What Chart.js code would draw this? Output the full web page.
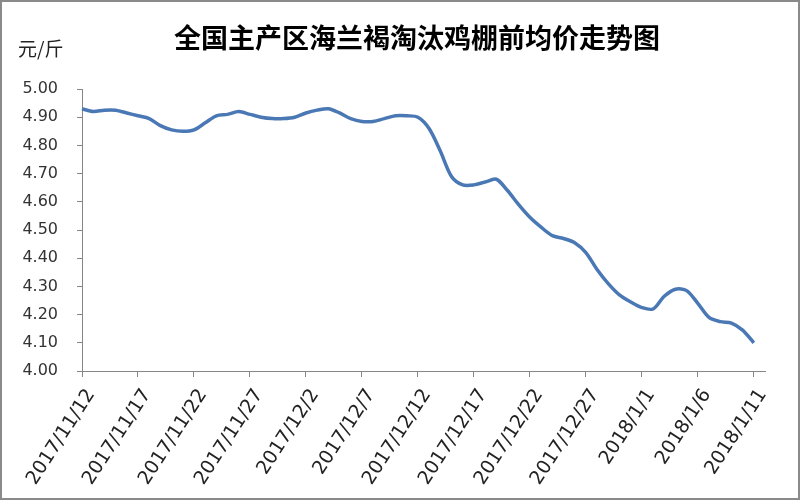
<!DOCTYPE html>
<html>
<head>
<meta charset="utf-8">
<script src="https://cdn.jsdelivr.net/npm/chart.js@4"></script>
<style>
html,body{margin:0;padding:0;background:#fff}
#wrap{width:796px;height:496px;border:2px solid #8a8a8a;position:relative;background:#fff}
</style>
</head>
<body>
<div id="wrap"><canvas id="priceChart" width="796" height="496"></canvas></div>
<script>
// dates 2017/11/12 .. 2018/1/12, one per day
const days = ['2017/11/12','2017/11/13','2017/11/14','2017/11/15','2017/11/16','2017/11/17','2017/11/18','2017/11/19','2017/11/20','2017/11/21',
  '2017/11/22','2017/11/23','2017/11/24','2017/11/25','2017/11/26','2017/11/27','2017/11/28','2017/11/29','2017/11/30','2017/12/1',
  '2017/12/2','2017/12/3','2017/12/4','2017/12/5','2017/12/6','2017/12/7','2017/12/8','2017/12/9','2017/12/10','2017/12/11',
  '2017/12/12','2017/12/13','2017/12/14','2017/12/15','2017/12/16','2017/12/17','2017/12/18','2017/12/19','2017/12/20','2017/12/21',
  '2017/12/22','2017/12/23','2017/12/24','2017/12/25','2017/12/26','2017/12/27','2017/12/28','2017/12/29','2017/12/30','2017/12/31',
  '2018/1/1','2018/1/2','2018/1/3','2018/1/4','2018/1/5','2018/1/6','2018/1/7','2018/1/8','2018/1/9','2018/1/10',
  '2018/1/11','2018/1/12'];
// 元/斤
const prices = [4.93,4.92,4.925,4.925,4.915,4.905,4.895,4.87,4.855,4.85,
  4.855,4.88,4.905,4.91,4.92,4.91,4.90,4.895,4.895,4.90,
  4.915,4.925,4.93,4.915,4.895,4.885,4.885,4.895,4.905,4.905,
  4.90,4.86,4.78,4.69,4.66,4.66,4.67,4.68,4.64,4.59,
  4.545,4.51,4.48,4.47,4.455,4.42,4.36,4.31,4.27,4.245,
  4.225,4.22,4.265,4.29,4.285,4.24,4.19,4.175,4.17,4.145,
  4.10,null];
const yTicks = [4.00,4.10,4.20,4.30,4.40,4.50,4.60,4.70,4.80,4.90,5.00];
const titleText = '全国主产区海兰褐淘汰鸡棚前均价走势图';
const unitText = '元/斤';

// title sits right of centre in the original, so draw it by hand
const headerText = {
  id:'headerText',
  afterDraw(chart){
    const c = chart.ctx;
    c.save();
    c.fillStyle = '#000';
    c.textBaseline = 'middle';
    c.textAlign = 'center';
    c.font = 'bold 27px "Noto Sans CJK SC"';
    c.fillText(titleText, 415, 36);
    c.textAlign = 'left';
    c.fillStyle = '#222';
    c.font = '19px "Noto Sans CJK SC"';
    c.fillText(unitText, 16, 47);
    c.restore();
  }
};

new Chart(document.getElementById('priceChart'), {
  type:'line',
  data:{
    labels:days,
    datasets:[{
      data:prices,
      borderColor:'#4a78b4',
      borderWidth:3.5,
      pointRadius:0,
      tension:0.3,
      fill:false
    }]
  },
  options:{
    responsive:false,
    animation:false,
    layout:{padding:{left:0,right:33,top:87,bottom:0}},
    plugins:{
      legend:{display:false},
      tooltip:{enabled:false},
      title:{display:false}
    },
    scales:{
      x:{
        afterFit:s=>{s.height=127},
        border:{color:'#868686',width:1},
        grid:{drawOnChartArea:false,drawTicks:true,tickLength:6,tickColor:'#868686'},
        ticks:{autoSkip:false,minRotation:57,maxRotation:57,padding:8,labelOffset:9,color:'#222',
          font:{family:'"DejaVu Sans"',size:19},
          callback:function(v,i){return i%5===0?this.getLabelForValue(v):null}}
      },
      y:{
        min:4,max:5,
        afterFit:s=>{s.width=80},
        afterBuildTicks:s=>{s.ticks=yTicks.map(v=>({value:v}))},
        border:{color:'#868686',width:1},
        grid:{drawOnChartArea:false,drawTicks:true,tickLength:5,tickColor:'#868686'},
        ticks:{padding:19,color:'#333',font:{family:'"DejaVu Sans"',size:16},
          callback:v=>v.toFixed(2)}
      }
    }
  },
  plugins:[headerText]
});
</script>
</body>
</html>
